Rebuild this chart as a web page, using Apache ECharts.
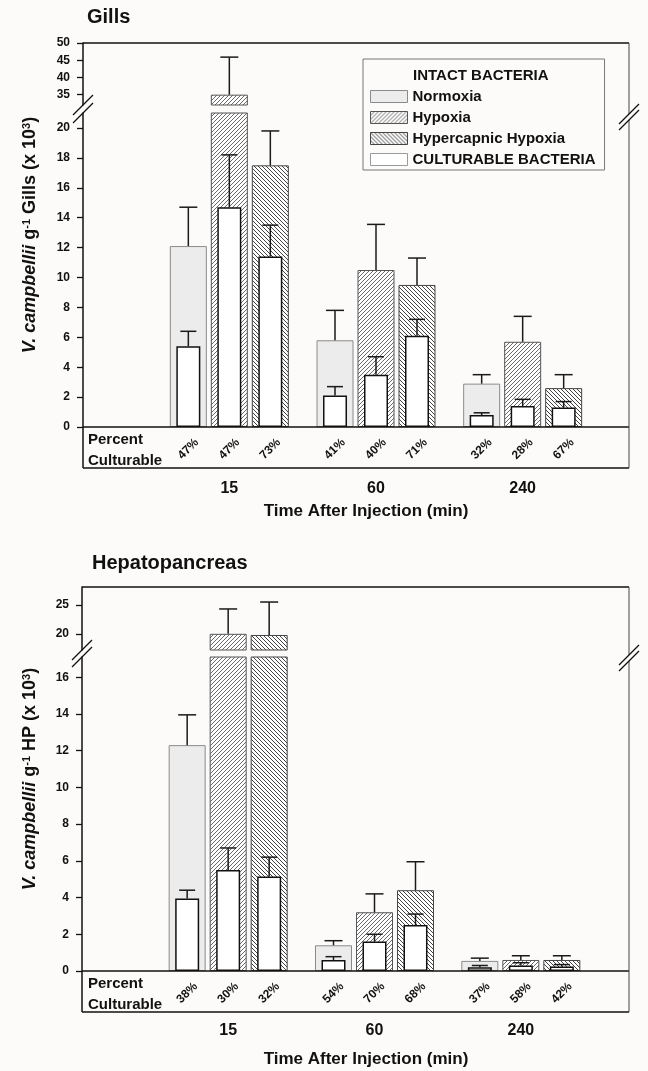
<!DOCTYPE html>
<html>
<head>
<meta charset="utf-8">
<title>V. campbellii in gills and hepatopancreas</title>
<script src="https://cdn.jsdelivr.net/npm/echarts@6.0.0/dist/echarts.min.js"></script>
<style>
  html, body { margin: 0; padding: 0; background: #fcfbf9; }
  #chart { width: 648px; height: 1071px; }
</style>
</head>
<body>
<div id="chart"></div>
<script>
const FONT = '"Liberation Sans", Arial, Helvetica, sans-serif';
const INK = '#111';

const times = ['15', '60', '240'];
const conditions = ['Normoxia', 'Hypoxia', 'Hypercapnic Hypoxia'];
const culturableName = 'CULTURABLE BACTERIA';

// rows follow `conditions`, columns follow `times`, V. campbellii g-1 (x 10^3)
// *Top = top of the error bar
const gillsIntact    = [[12.1, 5.8, 2.9], [35.0, 10.5, 5.7], [17.5, 9.5, 2.6]];
const gillsIntactTop = [[14.7, 7.8, 3.5], [45.9, 13.55, 7.4], [19.8, 11.3, 3.5]];
const gillsCult      = [[5.4, 2.1, 0.8], [14.7, 3.5, 1.4], [11.4, 6.1, 1.3]];
const gillsCultTop   = [[6.4, 2.7, 0.95], [18.2, 4.7, 1.85], [13.5, 7.2, 1.7]];
const gillsPct       = [[47, 41, 32], [47, 40, 28], [73, 71, 67]];

const hpIntact    = [[12.3, 1.4, 0.55], [20.0, 3.2, 0.6], [19.8, 4.4, 0.6]];
const hpIntactTop = [[13.95, 1.65, 0.7], [24.3, 4.2, 0.83], [25.5, 5.95, 0.83]];
const hpCult      = [[3.95, 0.6, 0.2], [5.5, 1.6, 0.3], [5.15, 2.5, 0.25]];
const hpCultTop   = [[4.4, 0.78, 0.3], [6.7, 2.0, 0.45], [6.2, 3.1, 0.35]];
const hpPct       = [[38, 54, 37], [30, 70, 58], [32, 68, 42]];

// tick labels, split axis (upper part above the break)
const gillsTicksHigh = [35, 40, 45, 50];
const gillsTicksLow  = [0, 2, 4, 6, 8, 10, 12, 14, 16, 18, 20];
const hpTicksHigh    = [20, 25];
const hpTicksLow     = [0, 2, 4, 6, 8, 10, 12, 14, 16];

function hatch(dir, ink) {
  const s = 4;
  const c = document.createElement('canvas');
  c.width = c.height = s;
  const g = c.getContext('2d');
  g.fillStyle = '#fff';
  g.fillRect(0, 0, s, s);
  g.strokeStyle = ink;
  g.lineWidth = 1;
  g.beginPath();
  if (dir === '/') {
    g.moveTo(-1, s + 1); g.lineTo(s + 1, -1);
    g.moveTo(-1, 1); g.lineTo(1, -1);
    g.moveTo(s - 1, s + 1); g.lineTo(s + 1, s - 1);
  } else {
    g.moveTo(-1, -1); g.lineTo(s + 1, s + 1);
    g.moveTo(s - 1, -1); g.lineTo(s + 1, 1);
    g.moveTo(-1, s - 1); g.lineTo(1, s + 1);
  }
  g.stroke();
  return { image: c, repeat: 'repeat' };
}

const intactStyle = [
  { color: '#ececec', borderColor: '#8a8a8a', borderWidth: 1 },
  { color: hatch('/', '#6a6a6a'), borderColor: '#555', borderWidth: 1 },
  { color: hatch('\\', '#444'), borderColor: '#444', borderWidth: 1 }
];
const cultStyle = { color: '#fff', borderColor: INK, borderWidth: 1.5 };
const errStyle = { stroke: '#1a1a1a', lineWidth: 1.5 };

const panels = [
  {
    title: 'Gills', tissue: 'Gills',
    intact: gillsIntact, intactTop: gillsIntactTop, cult: gillsCult, cultTop: gillsCultTop, pct: gillsPct,
    ticksHigh: gillsTicksHigh, ticksLow: gillsTicksLow, upper: [32, 50], lower: [0, 21],
    left: 156, width: 440, axisX: 83, right: 629,
    top: 43, upperBottom: 105, lowerTop: 113, base: 427,
    titleX: 87, titleY: 17, labelMargin: 54, timeY: 511,
    breakL: [105, 113], breakR: [114, 120]
  },
  {
    title: 'Hepatopancreas', tissue: 'HP',
    intact: hpIntact, intactTop: hpIntactTop, cult: hpCult, cultTop: hpCultTop, pct: hpPct,
    ticksHigh: hpTicksHigh, ticksLow: hpTicksLow, upper: [17.2, 28.1], lower: [0, 17.1],
    left: 155, width: 439, axisX: 82, right: 629,
    top: 587, upperBottom: 650, lowerTop: 657, base: 971,
    titleX: 92, titleY: 563, labelMargin: 52, timeY: 1059,
    breakL: [650, 657], breakR: [655, 661]
  }
];

function catAxis(gridIndex, showLabels, margin) {
  return {
    type: 'category', gridIndex, data: times,
    axisLine: { show: false }, axisTick: { show: false },
    axisLabel: {
      show: showLabels, margin: margin || 0,
      color: INK, fontFamily: FONT, fontWeight: 'bold', fontSize: 16
    },
    splitLine: { show: false }
  };
}

function valAxis(gridIndex, range, ticks, offset) {
  return {
    type: 'value', gridIndex, min: range[0], max: range[1], offset,
    splitLine: { show: false },
    axisLine: { show: true, lineStyle: { color: INK, width: 1.5 } },
    axisTick: { show: true, length: 6, customValues: ticks, lineStyle: { color: INK, width: 1.3 } },
    axisLabel: { customValues: ticks, margin: 13, color: INK, fontFamily: FONT, fontWeight: 'bold', fontSize: 12 }
  };
}

function errSeries(xi, yi, vals, tops, off, cap, z) {
  return {
    type: 'custom', xAxisIndex: xi, yAxisIndex: yi, clip: true, z, silent: true,
    data: vals.map((v, i) => [i, v, tops[i]]),
    renderItem: (params, api) => {
      const b = api.coord([api.value(0), api.value(1)]);
      const t = api.coord([api.value(0), api.value(2)]);
      const x = b[0] + off;
      return {
        type: 'group',
        children: [
          { type: 'line', shape: { x1: x, y1: b[1], x2: x, y2: t[1] }, style: errStyle },
          { type: 'line', shape: { x1: x - cap / 2, y1: t[1], x2: x + cap / 2, y2: t[1] }, style: errStyle }
        ]
      };
    }
  };
}

function pctSeries(xi, yi, pcts, off) {
  return {
    type: 'custom', xAxisIndex: xi, yAxisIndex: yi, z: 6, silent: true,
    data: pcts.map((v, i) => [i, 0, v]),
    renderItem: (params, api) => {
      const b = api.coord([api.value(0), 0]);
      return {
        type: 'text', x: b[0] + off, y: b[1] + 22, rotation: Math.PI / 4,
        style: {
          text: api.value(2) + '%', font: 'bold 12px ' + FONT, fill: INK,
          align: 'center', verticalAlign: 'middle', textAlign: 'center', textVerticalAlign: 'middle'
        }
      };
    }
  };
}

function line(x1, y1, x2, y2, w, color) {
  return { type: 'line', z: 100, silent: true, shape: { x1, y1, x2, y2 }, style: { stroke: color || INK, lineWidth: w || 1.5 } };
}

function text(x, y, str, font, align, extra) {
  return Object.assign({
    type: 'text', x, y, z: 100, silent: true,
    style: {
      text: str, font, fill: INK,
      align: align || 'left', verticalAlign: 'middle',
      textAlign: align || 'left', textVerticalAlign: 'middle'
    }
  }, extra || {});
}

const grid = [], xAxis = [], yAxis = [], series = [], graphic = [];

panels.forEach(p => {
  const gU = grid.length;
  grid.push({ left: p.left, width: p.width, top: p.top, height: p.upperBottom - p.top });
  const gL = grid.length;
  grid.push({ left: p.left, width: p.width, top: p.lowerTop, height: p.base - p.lowerTop });

  const xU = xAxis.length; xAxis.push(catAxis(gU, false));
  const xL = xAxis.length; xAxis.push(catAxis(gL, true, p.labelMargin));
  const xC = xAxis.length; xAxis.push(catAxis(gL, false));
  const off = p.left - p.axisX;
  const yU = yAxis.length; yAxis.push(valAxis(gU, p.upper, p.ticksHigh, off));
  const yL = yAxis.length; yAxis.push(valAxis(gL, p.lower, p.ticksLow, off));

  conditions.forEach((c, k) => {
    const dx = (k - 1) * 41;
    [[xU, yU], [xL, yL]].forEach(([xi, yi]) => {
      series.push({
        type: 'bar', name: c, xAxisIndex: xi, yAxisIndex: yi, data: p.intact[k],
        barWidth: 37, barGap: '10.8%', itemStyle: intactStyle[k], z: 2, silent: true
      });
      series.push(errSeries(xi, yi, p.intact[k], p.intactTop[k], dx, 18, 3));
    });
    series.push({
      type: 'bar', name: culturableName, xAxisIndex: xC, yAxisIndex: yL, data: p.cult[k],
      barWidth: 24, barGap: '70.8%', itemStyle: cultStyle, z: 4, silent: true
    });
    series.push(errSeries(xC, yL, p.cult[k], p.cultTop[k], dx, 16, 5));
    series.push(pctSeries(xL, yL, p.pct[k], dx));
  });

  const boxBottom = p.base + 41;
  graphic.push(
    text(p.titleX, p.titleY, p.title, 'bold 20px ' + FONT),
    line(p.axisX, p.top, p.right, p.top),
    line(p.axisX, p.base, p.right, p.base),
    line(p.axisX, boxBottom, p.right, boxBottom),
    line(p.axisX, p.base, p.axisX, boxBottom),
    line(p.right, p.top, p.right, p.breakR[0], 1, '#444'),
    line(p.right, p.breakR[1], p.right, boxBottom, 1, '#444'),
    text(88, p.base + 13, 'Percent', 'bold 15px ' + FONT),
    text(88, p.base + 34, 'Culturable', 'bold 15px ' + FONT),
    text(366, p.timeY, 'Time After Injection (min)', 'bold 17px ' + FONT, 'center')
  );
  p.breakL.forEach(y => graphic.push(line(p.axisX - 10, y + 10, p.axisX + 10, y - 10, 1.3)));
  p.breakR.forEach(y => graphic.push(line(p.right - 10, y + 10, p.right + 10, y - 10, 1.3)));

  const nameFont = { fontFamily: FONT, fontWeight: 'bold', fontSize: 18, verticalAlign: 'bottom' };
  graphic.push({
    type: 'text', x: 30, y: (p.top + p.base) / 2, rotation: Math.PI / 2, z: 100, silent: true,
    style: {
      text: '{i|V. campbellii}{n| g}{s|-1}{n| ' + p.tissue + ' (x 10}{s|3}{n|)}',
      font: 'bold 18px ' + FONT, fill: INK,
      align: 'center', verticalAlign: 'middle', textAlign: 'center', textVerticalAlign: 'middle',
      rich: {
        i: Object.assign({}, nameFont, { fontStyle: 'italic' }),
        n: nameFont,
        s: { fontFamily: FONT, fontWeight: 'bold', fontSize: 11, verticalAlign: 'top' }
      }
    }
  });
});

graphic.push(text(413, 76, 'INTACT BACTERIA', 'bold 15px ' + FONT));

const chart = echarts.init(document.getElementById('chart'), null, { renderer: 'canvas' });
chart.setOption({
  backgroundColor: '#fcfbf9',
  animation: false,
  grid, xAxis, yAxis, series, graphic,
  legend: {
    orient: 'vertical', left: 363, top: 59,
    padding: [30, 9, 3, 7], itemWidth: 37, itemHeight: 12, itemGap: 6,
    borderColor: '#777', borderWidth: 1, borderRadius: 0,
    selectedMode: false,
    textStyle: { color: INK, fontFamily: FONT, fontWeight: 'bold', fontSize: 15, lineHeight: 15 },
    data: [
      { name: conditions[0], icon: 'rect', itemStyle: intactStyle[0] },
      { name: conditions[1], icon: 'rect', itemStyle: intactStyle[1] },
      { name: conditions[2], icon: 'rect', itemStyle: intactStyle[2] },
      { name: culturableName, icon: 'rect', itemStyle: { color: '#fff', borderColor: '#9a9a9a', borderWidth: 1 } }
    ]
  }
});
</script>
</body>
</html>
